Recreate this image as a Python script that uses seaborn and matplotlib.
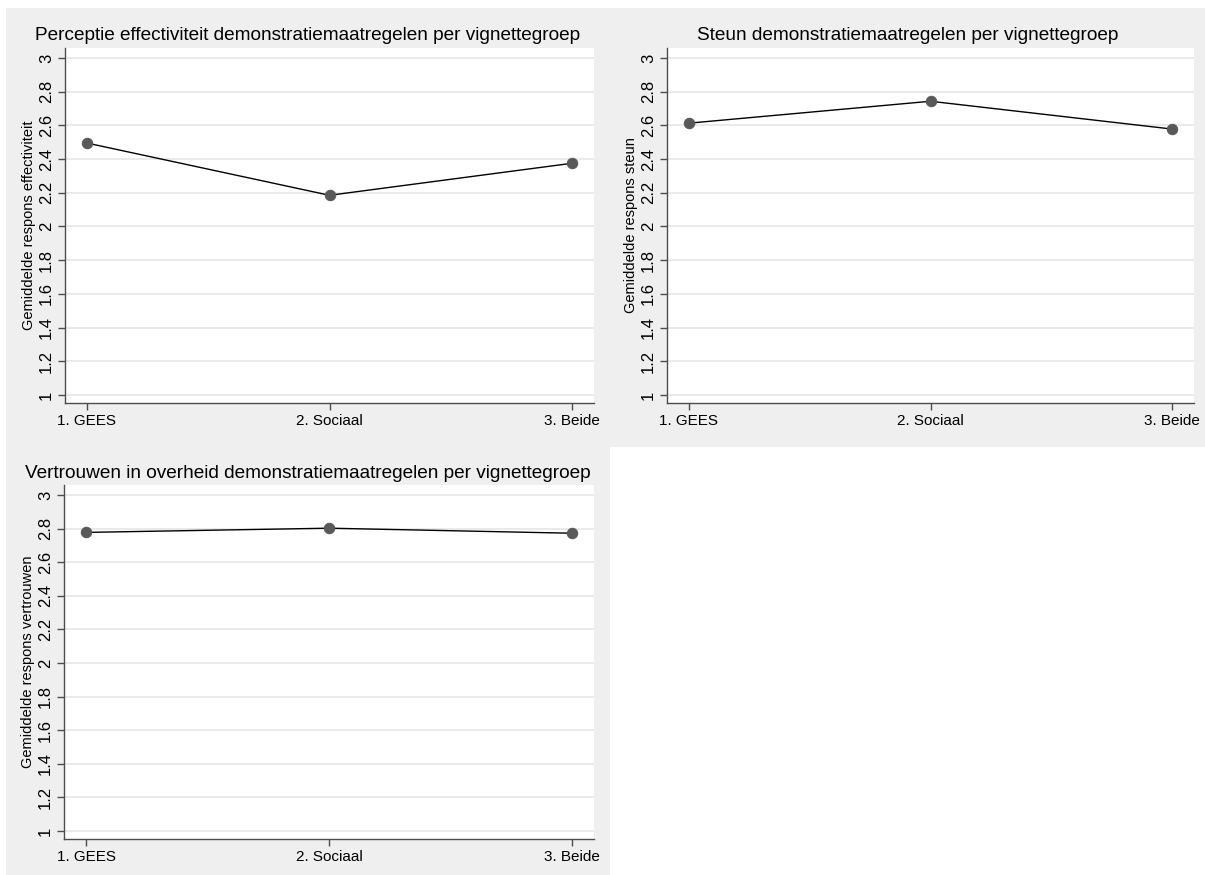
import matplotlib
matplotlib.use("Agg")
import matplotlib.pyplot as plt
import seaborn as sns
import pandas as pd
from matplotlib.patches import Rectangle

# ---- data ----
groups = ["1. GEES", "2. Sociaal", "3. Beide"]
effectiviteit = [2.495, 2.185, 2.375]
steun = [2.613, 2.743, 2.578]
vertrouwen = [2.777, 2.802, 2.772]
ytick_values = [1, 1.2, 1.4, 1.6, 1.8, 2, 2.2, 2.4, 2.6, 2.8, 3]
ytick_labels = ["1", "1.2", "1.4", "1.6", "1.8", "2", "2.2", "2.4", "2.6", "2.8", "3"]
titles = [
    "Perceptie effectiviteit demonstratiemaatregelen per vignettegroep",
    "Steun demonstratiemaatregelen per vignettegroep",
    "Vertrouwen in overheid demonstratiemaatregelen per vignettegroep",
]
ylabels = [
    "Gemiddelde respons effectiviteit",
    "Gemiddelde respons steun",
    "Gemiddelde respons vertrouwen",
]
series = [effectiviteit, steun, vertrouwen]

sns.set_style("white")
plt.rcParams["font.family"] = ["Liberation Sans", "DejaVu Sans"]
plt.rcParams["text.color"] = "black"

W, H = 1205, 875
fig = plt.figure(figsize=(W / 100, H / 100), dpi=100)
fig.patch.set_facecolor("white")

BG = "#EFEFEF"
GRID = "#E8E8E8"
AXC = "#4D4D4D"
MARK = "#595959"


def frac_rect(x0, y0, x1, y1):
    return [x0 / W, 1 - y1 / H, (x1 - x0) / W, (y1 - y0) / H]


# gray graph regions (panel backgrounds)
panels = [(6, 8, 610, 447), (610, 8, 1205, 447), (6, 447, 610, 875)]
for (x0, y0, x1, y1) in panels:
    r = frac_rect(x0, y0, x1, y1)
    fig.patches.append(Rectangle((r[0], r[1]), r[2], r[3], transform=fig.transFigure,
                                 facecolor=BG, edgecolor="none", zorder=-10))

axes_boxes = [(65, 48, 594, 403), (667, 48, 1194, 403), (64, 485, 594, 839)]
title_y = [36, 36, 473]

for i in range(3):
    ax = fig.add_axes(frac_rect(*axes_boxes[i]))
    ax.set_zorder(5)
    ax.set_facecolor("white")
    df = pd.DataFrame({"pos": range(len(groups)), "val": series[i]})
    sns.lineplot(data=df, x="pos", y="val", ax=ax, color="black", linewidth=1.0,
                 marker="o", markersize=7.5, markerfacecolor=MARK,
                 markeredgecolor=MARK, zorder=3)
    ax.set_xlim(-0.0907, 2.0907)
    ax.set_ylim(0.9525, 3.059)
    ax.set_yticks(ytick_values)
    ax.set_yticklabels(ytick_labels, rotation=90, va="center", fontsize=12)
    ax.set_xticks(range(len(groups)))
    ax.set_xticklabels(groups, fontsize=11)
    ax.grid(axis="y", color=GRID, linewidth=1.3)
    ax.set_axisbelow(True)
    for s in ["top", "right"]:
        ax.spines[s].set_visible(False)
    for s in ["left", "bottom"]:
        ax.spines[s].set_color(AXC)
        ax.spines[s].set_linewidth(1.0)
    ax.tick_params(axis="both", which="both", direction="out", length=5, width=1.0,
                   color=AXC, labelcolor="black", left=True, bottom=True, pad=3)
    ax.set_xlabel("")
    ax.set_ylabel(ylabels[i], fontsize=10.5, color="black")
    axw = axes_boxes[i][2] - axes_boxes[i][0]
    ax.yaxis.set_label_coords(-29 / axw, 0.5)
    px0, py0, px1, py1 = panels[i]
    fig.text(((px0 + px1) / 2) / W, 1 - title_y[i] / H, titles[i], ha="center",
             va="center", fontsize=13.7, color="black")

fig.savefig("out.png", dpi=100, facecolor="white")
